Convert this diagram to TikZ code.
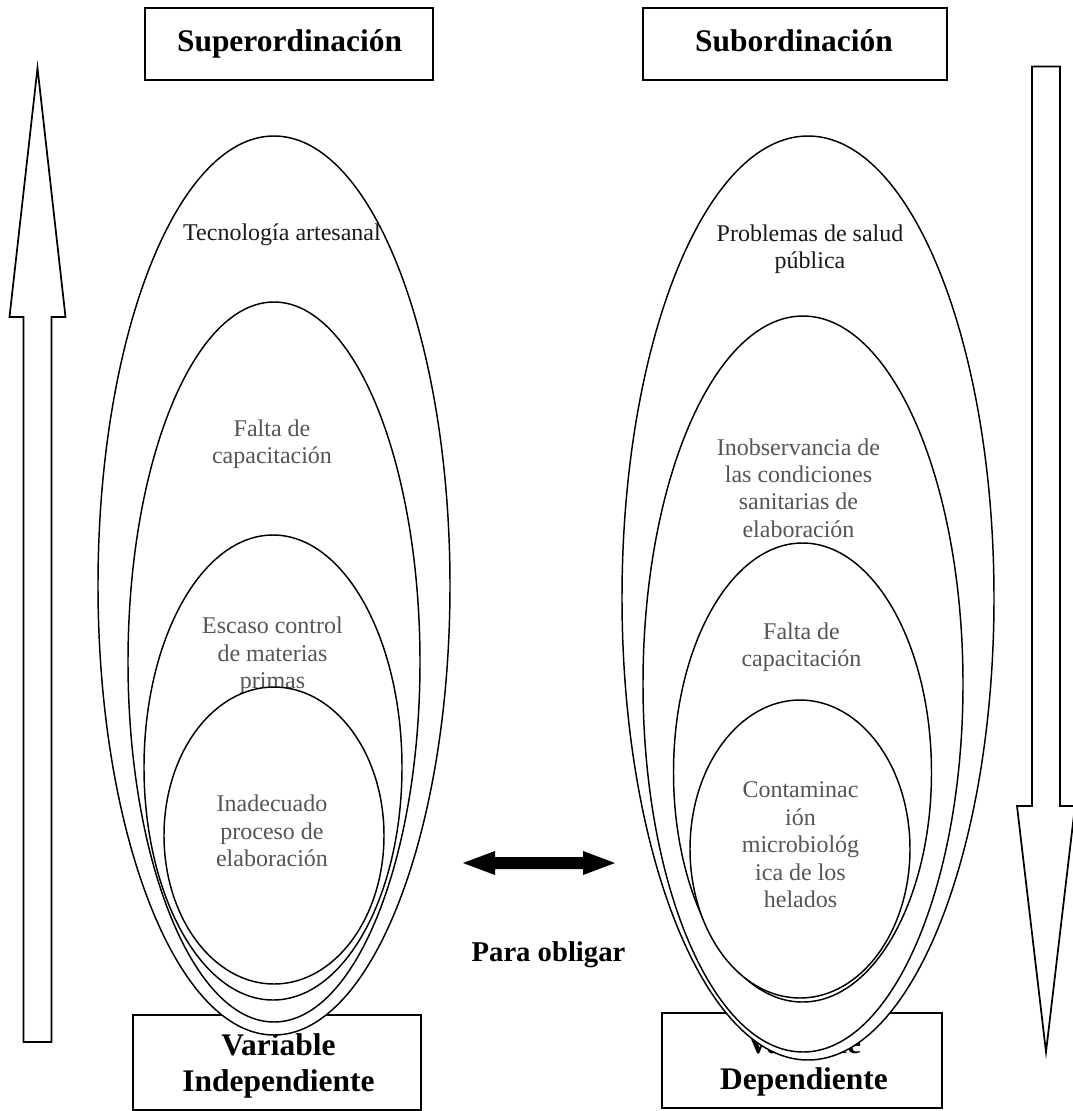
\documentclass[tikz,border=0pt]{standalone}
\usepackage{fontspec}
\setmainfont{Liberation Serif}
\usetikzlibrary{shapes.geometric}
\definecolor{inktext}{RGB}{25,25,25}
\definecolor{softtext}{RGB}{85,85,85}

\begin{document}
\begin{tikzpicture}[x=0.75pt,y=-0.75pt,
  % ellipse sized by its half axes, given in canvas units
  ring/.style 2 args={ellipse, draw=black, line width=1.1pt, fill=white,
    inner sep=0pt, minimum width={#1*1.5pt}, minimum height={#2*1.5pt}},
  frame/.style 2 args={rectangle, draw=black, line width=1.5pt, inner sep=0pt,
    minimum width={#1*0.75pt}, minimum height={#2*0.75pt}},
  heading/.style={font=\fontsize{23.6}{27.5}\selectfont\bfseries, inner sep=0pt, align=center},
  ringlabel/.style={font=\fontsize{18}{20.6}\selectfont, inner sep=0pt, align=center, text=softtext},
  outerlabel/.style={ringlabel, text=inktext},
  blockarrow/.style={draw=black, line width=1.3pt, fill=white, line join=miter},
]
\useasboundingbox (0,0) rectangle (1072,1111);

% title boxes
\node[frame={288}{72}] (sup) at (289,44) {};
\node[heading, anchor=base] (suplabel) at (289.5,51) {Superordinación};
\node[frame={304}{72}] (sub) at (795,44) {};
\node[heading, anchor=base] (sublabel) at (794,51) {Subordinación};

% variable boxes (partly covered by the ellipses)
\node[frame={288}{95}] (indep) at (277,1062.5) {};
\node[heading] (indeplabel) at (278.5,1066) {Variable\\Independiente};
\node[frame={280}{95}] (dep) at (802,1060.5) {};
\node[heading] (deplabel) at (804,1064) {Variable\\Dependiente};

% vertical block arrows
\draw[blockarrow] (37.5,68) -- (65.5,317) -- (51.5,317) -- (51.5,1042)
  -- (23.5,1042) -- (23.5,317) -- (9.5,317) -- cycle;
\draw[blockarrow] (1032,66.5) -- (1060,66.5) -- (1060,806) -- (1075,806)
  -- (1046,1052) -- (1017,806) -- (1032,806) -- cycle;

% two-headed arrow between the groups
\fill[black] (463,863) -- (495,851) -- (495,857) -- (583,857) -- (583,851)
  -- (615,863) -- (583,875) -- (583,869) -- (495,869) -- (495,875) -- cycle;
\node[font=\fontsize{21.5}{25}\selectfont\bfseries, inner sep=0pt, anchor=base]
  (oblige) at (548.5,961) {Para obligar};

% left group: independent variable
\node[ring={176}{449.5}] (e1) at (274,585.5) {};
\node[outerlabel, anchor=base] (t1) at (282,240.5) {Tecnología artesanal};
\node[ring={146}{360}] (e2) at (274,662) {};
\node[ringlabel] (t2) at (272,444) {Falta de\\capacitación};
\node[ring={129}{232.5}] (e3) at (273,767.5) {};
\node[ringlabel] (t3) at (272.5,655.5) {Escaso control\\de materias\\primas};
\node[ring={110}{148.5}] (e4) at (274,835.5) {};
\node[ringlabel] (t4) at (272,831) {Inadecuado\\proceso de\\elaboración};

% right group: dependent variable
\node[ring={186}{462}] (r1) at (808,598) {};
\node[outerlabel] (u1) at (810,249) {Problemas de salud\\pública};
\node[ring={160}{368}] (r2) at (803,684) {};
\node[ringlabel] (u2) at (798.5,488) {Inobservancia de\\las condiciones\\sanitarias de\\elaboración};
\node[ring={129}{229.5}] (r3) at (802.5,772.5) {};
\node[ringlabel] (u3) at (801.5,647) {Falta de\\capacitación};
\node[ring={110}{149}] (r4) at (800,849) {};
\node[ringlabel] (u4) at (800.5,845) {Contaminac\\ión\\microbiológ\\ica de los\\helados};
\end{tikzpicture}
\end{document}
